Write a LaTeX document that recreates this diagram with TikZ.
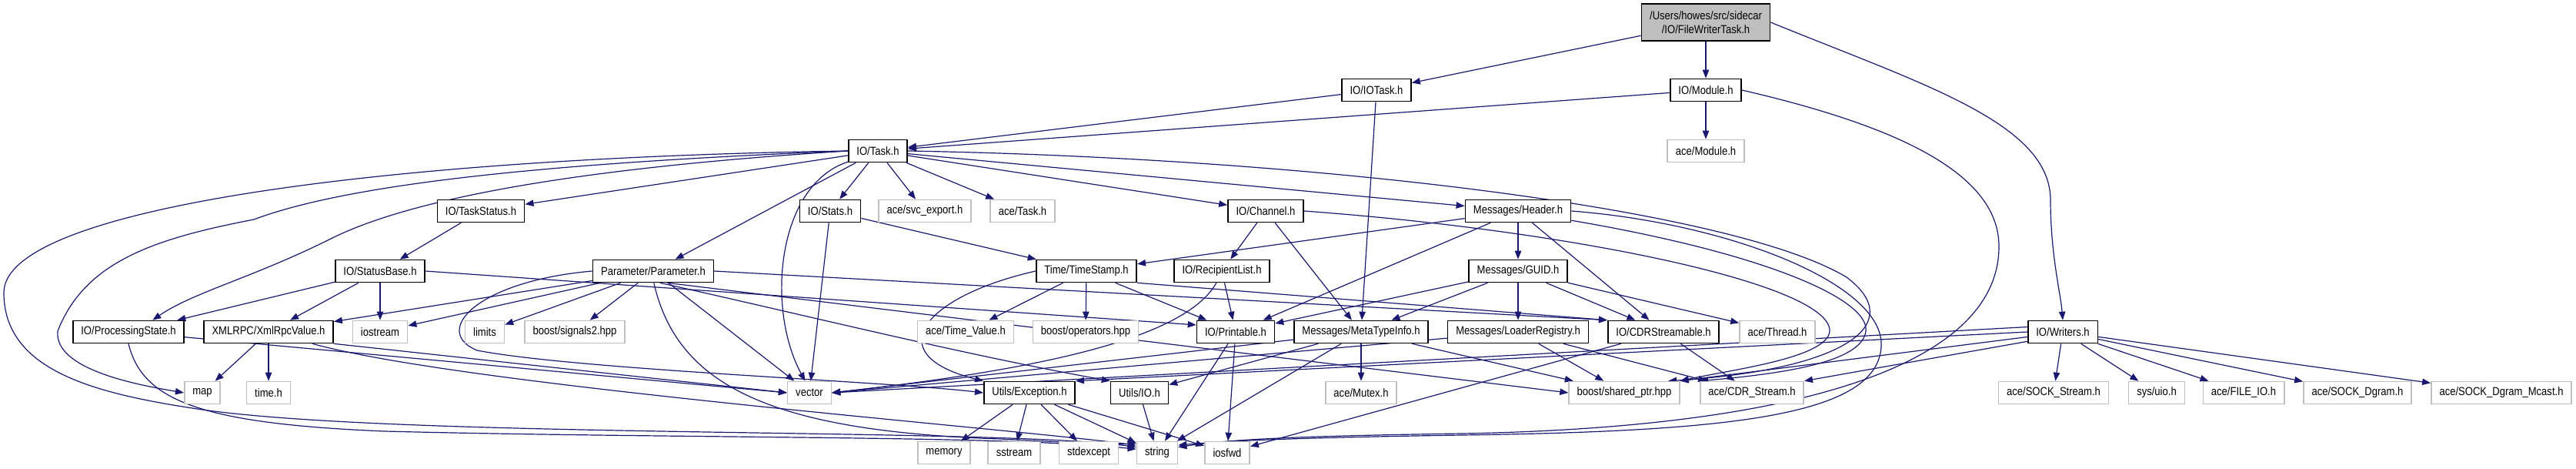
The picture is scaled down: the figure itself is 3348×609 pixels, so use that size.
\documentclass[tikz,border=0pt]{standalone}
\usepackage{fontspec}
\setmainfont{Liberation Sans}[FakeStretch=0.87]
\usetikzlibrary{arrows.meta}
\definecolor{edgeblue}{HTML}{191970}
\definecolor{extgray}{HTML}{BFBFBF}
\pgfdeclarelayer{edgelayer}
\pgfsetlayers{edgelayer,main}
\begin{document}
\begin{tikzpicture}[x=0.5pt,y=-0.5pt,
  inc/.style={draw=black, line width=0.8pt, fill=white, minimum height=14.5pt,
    inner xsep=5.3pt, inner ysep=0pt, font=\fontsize{7.5}{9}\selectfont},
  ext/.style={inc, draw=extgray},
  rootnode/.style={inc, fill=extgray, align=center, minimum height=24pt},
  edge/.style={draw=edgeblue, line width=0.6pt, -{Triangle[length=5.5pt,width=4.2pt]}}]
\useasboundingbox (0,0) rectangle (3348,609);
% nodes
\node[rootnode] (root) at (2217,29) {/Users/howes/src/sidecar\\/IO/FileWriterTask.h};
\node[inc] (iotask) at (1789,117) {IO/IOTask.h};
\node[inc] (module) at (2217,117) {IO/Module.h};
\node[ext] (acemodule) at (2217,196) {ace/Module.h};
\node[inc] (task) at (1141,196) {IO/Task.h};
\node[inc] (taskstatus) at (625,274) {IO/TaskStatus.h};
\node[inc] (stats) at (1079,274) {IO/Stats.h};
\node[ext] (svcexport) at (1202,274) {ace/svc\_export.h};
\node[ext] (acetask) at (1329,274) {ace/Task.h};
\node[inc] (channel) at (1645,274) {IO/Channel.h};
\node[inc] (header) at (1973,274) {Messages/Header.h};
\node[inc] (statusbase) at (494,352) {IO/StatusBase.h};
\node[inc] (parameter) at (849,352) {Parameter/Parameter.h};
\node[inc] (timestamp) at (1412,352) {Time/TimeStamp.h};
\node[inc] (recipient) at (1588,352) {IO/RecipientList.h};
\node[inc] (guid) at (1973,352) {Messages/GUID.h};
\node[inc] (procstate) at (167,431) {IO/ProcessingState.h};
\node[inc] (xmlrpc) at (349,431) {XMLRPC/XmlRpcValue.h};
\node[ext] (iostream) at (494,431) {iostream};
\node[ext] (limits) at (630,431) {limits};
\node[ext] (signals2) at (747,431) {boost/signals2.hpp};
\node[ext] (timevalue) at (1255,431) {ace/Time\_Value.h};
\node[ext] (operators) at (1411,431) {boost/operators.hpp};
\node[inc] (printable) at (1606,431) {IO/Printable.h};
\node[inc] (metatype) at (1769,431) {Messages/MetaTypeInfo.h};
\node[inc] (loader) at (1973,431) {Messages/LoaderRegistry.h};
\node[inc] (cdrstream) at (2162,431) {IO/CDRStreamable.h};
\node[ext] (thread) at (2310,431) {ace/Thread.h};
\node[inc] (writers) at (2681,431) {IO/Writers.h};
\node[ext] (map) at (263,510) {map};
\node[ext] (timeh) at (349,510) {time.h};
\node[ext] (vector) at (1052,510) {vector};
\node[inc] (exception) at (1338,510) {Utils/Exception.h};
\node[inc] (utilsio) at (1481,510) {Utils/IO.h};
\node[ext] (mutex) at (1769,510) {ace/Mutex.h};
\node[ext] (sharedptr) at (2111,510) {boost/shared\_ptr.hpp};
\node[ext] (cdr) at (2277,510) {ace/CDR\_Stream.h};
\node[ext] (sockstream) at (2669,510) {ace/SOCK\_Stream.h};
\node[ext] (uio) at (2803,510) {sys/uio.h};
\node[ext] (fileio) at (2916,510) {ace/FILE\_IO.h};
\node[ext] (sockdgram) at (3064,510) {ace/SOCK\_Dgram.h};
\node[ext] (mcast) at (3251,510) {ace/SOCK\_Dgram\_Mcast.h};
\node[ext] (memory) at (1227,588) {memory};
\node[ext] (sstream) at (1318,588) {sstream};
\node[ext] (stdexcept) at (1415,588) {stdexcept};
\node[ext] (string) at (1504,588) {string};
\node[ext] (iosfwd) at (1595,588) {iosfwd};
% edges
\begin{pgfonlayer}{edgelayer}
\draw[edge] (root) -- (iotask);
\draw[edge] (root) -- (module);
\draw[edge] (root.east) .. controls (2500,110) and (2665,160) .. (2665,260) .. controls (2665,330) and (2678,380) .. (writers.north);
\draw[edge] (iotask) -- (task);
\draw[edge] (iotask) -- (metatype);
\draw[edge] (module) -- (task);
\draw[edge] (module) -- (acemodule);
\draw[edge] (module.east) .. controls (2450,160) and (2598,220) .. (2598,320) .. controls (2598,470) and (2350,555) .. (1900,563) .. controls (1700,566) and (1600,570) .. (string.15);
\draw[edge] (task) -- (taskstatus);
\draw[edge] (task) -- (stats);
\draw[edge] (task) -- (svcexport);
\draw[edge] (task) -- (acetask);
\draw[edge] (task) -- (channel);
\draw[edge] (task) -- (header);
\draw[edge] (task) -- (parameter);
\draw[edge] (task.west) .. controls (500,205) and (5,270) .. (5,380) .. controls (5,480) and (120,510) .. (250,530) .. controls (500,570) and (1300,555) .. (string.165);
\draw[edge] (task.west) .. controls (700,212) and (450,240) .. (330,285) .. controls (200,310) and (110,340) .. (75,430) .. controls (70,480) and (180,500) .. (map.west);
\draw[edge] (task.west) .. controls (800,215) and (550,250) .. (430,310) .. controls (330,360) and (250,380) .. (procstate.26);
\draw[edge] (task.200) .. controls (1010,240) and (995,400) .. (vector.110);
\draw[edge] (task.east) .. controls (1700,205) and (2250,270) .. (2400,360) .. controls (2480,420) and (2400,480) .. (sharedptr.15);
\draw[edge] (taskstatus) -- (statusbase);
\draw[edge] (statusbase) -- (procstate);
\draw[edge] (statusbase) -- (xmlrpc);
\draw[edge] (statusbase) -- (iostream);
\draw[edge] (statusbase.east) -- (printable.170);
\draw[edge] (parameter) -- (xmlrpc);
\draw[edge] (parameter) -- (iostream);
\draw[edge] (parameter) -- (limits);
\draw[edge] (parameter) -- (signals2);
\draw[edge] (parameter) -- (vector);
\draw[edge] (parameter.east) -- (cdrstream.north west);
\draw[edge] (parameter.-40) -- (sharedptr.west);
\draw[edge] (parameter.-87) .. controls (880,500) and (1000,560) .. (1300,570) .. controls (1400,575) and (1450,578) .. (string.155);
\draw[edge] (parameter.west) .. controls (620,365) and (560,430) .. (620,455) .. controls (750,480) and (1150,495) .. (exception.west);
\draw[edge] (parameter.-60) .. controls (1050,410) and (1250,460) .. (utilsio.north west);
\draw[edge] (stats) -- (vector);
\draw[edge] (stats) -- (timestamp);
\draw[edge] (timestamp) -- (timevalue);
\draw[edge] (timestamp) -- (operators);
\draw[edge] (timestamp) -- (printable);
\draw[edge] (timestamp.south east) -- (cdrstream.north west);
\draw[edge] (timestamp.west) .. controls (1200,385) and (1140,460) .. (exception.north west);
\draw[edge] (channel) -- (recipient);
\draw[edge] (channel) -- (metatype);
\draw[edge] (channel.east) .. controls (2050,300) and (2380,370) .. (2378,430) .. controls (2375,465) and (2250,480) .. (sharedptr.north east);
\draw[edge] (recipient) -- (printable);
\draw[edge] (recipient.-115) .. controls (1540,440) and (1350,480) .. (vector.east);
\draw[edge] (header) -- (timestamp);
\draw[edge] (header) -- (printable);
\draw[edge] (header) -- (guid);
\draw[edge] (header) -- (cdrstream);
\draw[edge] (header.-10) .. controls (2300,330) and (2430,390) .. (2425,430) .. controls (2420,470) and (2320,485) .. (cdr.north west);
\draw[edge] (header.east) .. controls (2250,290) and (2450,370) .. (2445,450) .. controls (2440,540) and (2250,560) .. (1900,565) .. controls (1700,568) and (1600,572) .. (string.20);
\draw[edge] (guid) -- (printable);
\draw[edge] (guid) -- (metatype);
\draw[edge] (guid) -- (loader);
\draw[edge] (guid) -- (cdrstream);
\draw[edge] (guid) -- (thread);
\draw[edge] (procstate) -- (vector.west);
\draw[edge] (procstate.south) .. controls (185,520) and (260,550) .. (500,560) .. controls (900,570) and (1300,565) .. (string.170);
\draw[edge] (xmlrpc) -- (map);
\draw[edge] (xmlrpc) -- (timeh);
\draw[edge] (xmlrpc.south east) -- (vector.west);
\draw[edge] (xmlrpc.-15) .. controls (600,500) and (1300,555) .. (string.160);
\draw[edge] (printable) -- (string);
\draw[edge] (printable) -- (iosfwd);
\draw[edge] (metatype) -- (vector.east);
\draw[edge] (metatype) -- (utilsio);
\draw[edge] (metatype) -- (string);
\draw[edge] (metatype) -- (mutex);
\draw[edge] (metatype) -- (sharedptr);
\draw[edge] (loader) -- (vector.east);
\draw[edge] (loader) -- (sharedptr);
\draw[edge] (loader) -- (cdr);
\draw[edge] (cdrstream) -- (cdr);
\draw[edge] (cdrstream) -- (iosfwd);
\draw[edge] (exception) -- (memory);
\draw[edge] (exception) -- (sstream);
\draw[edge] (exception) -- (stdexcept);
\draw[edge] (exception) -- (string);
\draw[edge] (exception) -- (iosfwd);
\draw[edge] (utilsio) -- (string);
\draw[edge] (writers) -- (sockstream);
\draw[edge] (writers) -- (uio);
\draw[edge] (writers) -- (fileio);
\draw[edge] (writers) -- (sockdgram);
\draw[edge] (writers) -- (mcast);
\draw[edge] (writers.172) -- (vector.east);
\draw[edge] (writers.180) -- (exception.north east);
\draw[edge] (writers.188) -- (sharedptr.north east);
\draw[edge] (writers.195) -- (cdr.north east);
\end{pgfonlayer}
\end{tikzpicture}
\end{document}
